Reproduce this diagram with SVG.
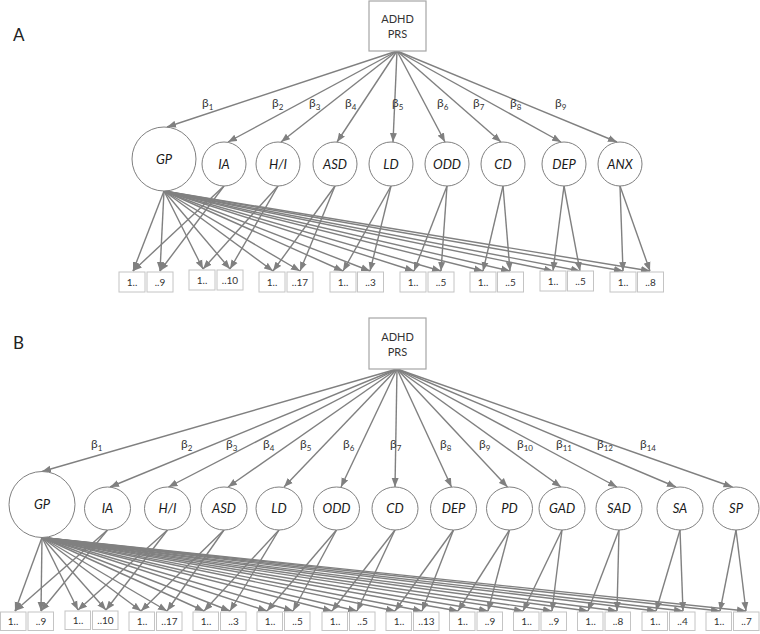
<svg xmlns="http://www.w3.org/2000/svg" width="760" height="634" viewBox="0 0 760 634">
<style>
.bg{fill:#fff}
.cn line{stroke:#808080;stroke-width:1.4;marker-end:url(#ah)}
.lat{fill:#fff;stroke:#7f7f7f;stroke-width:1}
.obs{fill:#fff;stroke:#c4c4c4;stroke-width:1}
.prs{fill:#fff;stroke:#a6a6a6;stroke-width:1.2}
.lt{font-family:Lato,"Open Sans","Liberation Sans",sans-serif;font-style:italic;font-size:13px;fill:#1a1a1a;text-anchor:middle}
.bt{font-family:Lato,"Open Sans","Liberation Sans",sans-serif;font-size:10px;fill:#333;text-anchor:middle}
.pt{font-family:Lato,"Open Sans","Liberation Sans",sans-serif;font-size:11px;fill:#333;text-anchor:middle}
.be{font-family:Lato,"Open Sans","Liberation Sans",sans-serif;font-size:12px;fill:#333}
.be tspan{font-size:8px}
.pl{font-family:Lato,"Open Sans","Liberation Sans",sans-serif;font-size:17px;fill:#222}
</style>
<defs>
<marker id="ah" markerWidth="10" markerHeight="8" refX="9" refY="4" orient="auto" markerUnits="userSpaceOnUse"><path d="M0,0.5 L9,4 L0,7.5 z" fill="#808080"/></marker>
</defs>
<rect class="bg" x="0" y="0" width="760" height="634"/>
<text class="pl" x="13" y="41">A</text>
<text class="pl" x="13" y="349">B</text>

<g id="connectors-A" class="cn">
<line x1="397" y1="51" x2="167" y2="127"/>
<line x1="397" y1="51" x2="228" y2="142"/>
<line x1="397" y1="51" x2="281" y2="142"/>
<line x1="397" y1="51" x2="337" y2="142"/>
<line x1="397" y1="51" x2="393" y2="142"/>
<line x1="397" y1="51" x2="445" y2="142"/>
<line x1="397" y1="51" x2="501" y2="142"/>
<line x1="397" y1="51" x2="561" y2="142"/>
<line x1="397" y1="51" x2="617" y2="142"/>
<line x1="164" y1="191" x2="133" y2="271"/>
<line x1="164" y1="191" x2="160" y2="271"/>
<line x1="164" y1="191" x2="203" y2="269"/>
<line x1="164" y1="191" x2="230" y2="269"/>
<line x1="164" y1="191" x2="273" y2="271"/>
<line x1="164" y1="191" x2="300" y2="271"/>
<line x1="164" y1="191" x2="343" y2="271"/>
<line x1="164" y1="191" x2="370" y2="271"/>
<line x1="164" y1="191" x2="414" y2="271"/>
<line x1="164" y1="191" x2="441" y2="271"/>
<line x1="164" y1="191" x2="483" y2="271"/>
<line x1="164" y1="191" x2="510" y2="271"/>
<line x1="164" y1="191" x2="553" y2="271"/>
<line x1="164" y1="191" x2="580" y2="271"/>
<line x1="164" y1="191" x2="623" y2="271"/>
<line x1="164" y1="191" x2="650" y2="271"/>
<line x1="224" y1="186" x2="133" y2="271"/>
<line x1="224" y1="186" x2="160" y2="271"/>
<line x1="278" y1="186" x2="203" y2="269"/>
<line x1="278" y1="186" x2="230" y2="269"/>
<line x1="335" y1="186" x2="273" y2="271"/>
<line x1="335" y1="186" x2="300" y2="271"/>
<line x1="391" y1="186" x2="343" y2="271"/>
<line x1="391" y1="186" x2="370" y2="271"/>
<line x1="447" y1="186" x2="414" y2="271"/>
<line x1="447" y1="186" x2="441" y2="271"/>
<line x1="503" y1="186" x2="483" y2="271"/>
<line x1="503" y1="186" x2="510" y2="271"/>
<line x1="564" y1="186" x2="553" y2="271"/>
<line x1="564" y1="186" x2="580" y2="271"/>
<line x1="620" y1="186" x2="623" y2="271"/>
<line x1="620" y1="186" x2="650" y2="271"/>
</g>

<g id="betas-A" class="be">
<text x="202" y="107">β<tspan dy="3">1</tspan></text>
<text x="272" y="107">β<tspan dy="3">2</tspan></text>
<text x="309" y="107">β<tspan dy="3">3</tspan></text>
<text x="345" y="107">β<tspan dy="3">4</tspan></text>
<text x="392" y="107">β<tspan dy="3">5</tspan></text>
<text x="437" y="107">β<tspan dy="3">6</tspan></text>
<text x="473" y="107">β<tspan dy="3">7</tspan></text>
<text x="510" y="107">β<tspan dy="3">8</tspan></text>
<text x="555" y="107">β<tspan dy="3">9</tspan></text>
</g>

<g id="A-PRS"><rect class="prs" x="369" y="1" width="57" height="50"/><text class="pt" x="397.5" y="23">ADHD</text><text class="pt" x="397.5" y="38">PRS</text></g>
<g id="A-GP"><circle class="lat" cx="164" cy="159" r="32"/><text class="lt" x="164" y="163.5">GP</text></g>
<g id="A-IA"><circle class="lat" cx="224" cy="164" r="22"/><text class="lt" x="224" y="168.5">IA</text></g>
<g id="A-HI"><circle class="lat" cx="278" cy="164" r="22"/><text class="lt" x="278" y="168.5">H/I</text></g>
<g id="A-ASD"><circle class="lat" cx="335" cy="164" r="22"/><text class="lt" x="335" y="168.5">ASD</text></g>
<g id="A-LD"><circle class="lat" cx="391" cy="164" r="22"/><text class="lt" x="391" y="168.5">LD</text></g>
<g id="A-ODD"><circle class="lat" cx="447" cy="164" r="22"/><text class="lt" x="447" y="168.5">ODD</text></g>
<g id="A-CD"><circle class="lat" cx="503" cy="164" r="22"/><text class="lt" x="503" y="168.5">CD</text></g>
<g id="A-DEP"><circle class="lat" cx="564" cy="164" r="22"/><text class="lt" x="564" y="168.5">DEP</text></g>
<g id="A-ANX"><circle class="lat" cx="620" cy="164" r="22"/><text class="lt" x="620" y="168.5">ANX</text></g>

<g id="A-IA-items"><rect class="obs" x="119" y="272" width="26" height="20"/><text class="bt" x="132" y="285.5">1..</text><rect class="obs" x="147" y="272" width="26" height="20"/><text class="bt" x="160" y="285.5">..9</text></g>
<g id="A-HI-items"><rect class="obs" x="189" y="270" width="26" height="20"/><text class="bt" x="202" y="283.5">1..</text><rect class="obs" x="217" y="270" width="26" height="20"/><text class="bt" x="230" y="283.5">..10</text></g>
<g id="A-ASD-items"><rect class="obs" x="259" y="272" width="26" height="20"/><text class="bt" x="272" y="285.5">1..</text><rect class="obs" x="287" y="272" width="26" height="20"/><text class="bt" x="300" y="285.5">..17</text></g>
<g id="A-LD-items"><rect class="obs" x="330" y="272" width="26" height="20"/><text class="bt" x="343" y="285.5">1..</text><rect class="obs" x="357.5" y="272" width="26" height="20"/><text class="bt" x="370.5" y="285.5">..3</text></g>
<g id="A-ODD-items"><rect class="obs" x="400" y="272" width="26" height="20"/><text class="bt" x="413" y="285.5">1..</text><rect class="obs" x="428" y="272" width="26" height="20"/><text class="bt" x="441" y="285.5">..5</text></g>
<g id="A-CD-items"><rect class="obs" x="470" y="272" width="26" height="20"/><text class="bt" x="483" y="285.5">1..</text><rect class="obs" x="497.5" y="272" width="26" height="20"/><text class="bt" x="510.5" y="285.5">..5</text></g>
<g id="A-DEP-items"><rect class="obs" x="540" y="271" width="26" height="20"/><text class="bt" x="553" y="284.5">1..</text><rect class="obs" x="567.5" y="271" width="26" height="20"/><text class="bt" x="580.5" y="284.5">..5</text></g>
<g id="A-ANX-items"><rect class="obs" x="610" y="272" width="26" height="20"/><text class="bt" x="623" y="285.5">1..</text><rect class="obs" x="637.5" y="272" width="26" height="20"/><text class="bt" x="650.5" y="285.5">..8</text></g>

<g id="connectors-B" class="cn">
<line x1="397" y1="369" x2="42" y2="471.5"/>
<line x1="397" y1="369" x2="110" y2="487"/>
<line x1="397" y1="369" x2="168.5" y2="487"/>
<line x1="397" y1="369" x2="228" y2="487"/>
<line x1="397" y1="369" x2="284" y2="487"/>
<line x1="397" y1="369" x2="341" y2="487"/>
<line x1="397" y1="369" x2="395" y2="487"/>
<line x1="397" y1="369" x2="451.5" y2="487"/>
<line x1="397" y1="369" x2="507.5" y2="487"/>
<line x1="397" y1="369" x2="561" y2="487"/>
<line x1="397" y1="369" x2="617" y2="487"/>
<line x1="397" y1="369" x2="676" y2="487"/>
<line x1="397" y1="369" x2="732.5" y2="487"/>
<line x1="42" y1="537.5" x2="15" y2="611"/>
<line x1="42" y1="537.5" x2="41" y2="611"/>
<line x1="42" y1="537.5" x2="78" y2="610"/>
<line x1="42" y1="537.5" x2="106" y2="610"/>
<line x1="42" y1="537.5" x2="141" y2="611"/>
<line x1="42" y1="537.5" x2="167" y2="611"/>
<line x1="42" y1="537.5" x2="204" y2="611"/>
<line x1="42" y1="537.5" x2="230" y2="611"/>
<line x1="42" y1="537.5" x2="267" y2="611"/>
<line x1="42" y1="537.5" x2="293" y2="611"/>
<line x1="42" y1="537.5" x2="332" y2="611"/>
<line x1="42" y1="537.5" x2="357" y2="611"/>
<line x1="42" y1="537.5" x2="395" y2="611"/>
<line x1="42" y1="537.5" x2="422" y2="611"/>
<line x1="42" y1="537.5" x2="458" y2="611"/>
<line x1="42" y1="537.5" x2="488" y2="611"/>
<line x1="42" y1="537.5" x2="523" y2="611"/>
<line x1="42" y1="537.5" x2="552" y2="611"/>
<line x1="42" y1="537.5" x2="588" y2="611"/>
<line x1="42" y1="537.5" x2="617" y2="611"/>
<line x1="42" y1="537.5" x2="656" y2="611"/>
<line x1="42" y1="537.5" x2="683" y2="611"/>
<line x1="42" y1="537.5" x2="720" y2="611"/>
<line x1="42" y1="537.5" x2="746" y2="611"/>
<line x1="107.5" y1="530" x2="15" y2="611"/>
<line x1="107.5" y1="530" x2="41" y2="611"/>
<line x1="167.5" y1="530" x2="78" y2="610"/>
<line x1="167.5" y1="530" x2="106" y2="610"/>
<line x1="224" y1="530" x2="141" y2="611"/>
<line x1="224" y1="530" x2="167" y2="611"/>
<line x1="279" y1="530" x2="204" y2="611"/>
<line x1="279" y1="530" x2="230" y2="611"/>
<line x1="336.5" y1="530" x2="267" y2="611"/>
<line x1="336.5" y1="530" x2="293" y2="611"/>
<line x1="395" y1="530" x2="332" y2="611"/>
<line x1="395" y1="530" x2="357" y2="611"/>
<line x1="453.5" y1="530" x2="395" y2="611"/>
<line x1="453.5" y1="530" x2="422" y2="611"/>
<line x1="509.5" y1="530" x2="458" y2="611"/>
<line x1="509.5" y1="530" x2="488" y2="611"/>
<line x1="562" y1="530" x2="523" y2="611"/>
<line x1="562" y1="530" x2="552" y2="611"/>
<line x1="619" y1="530" x2="588" y2="611"/>
<line x1="619" y1="530" x2="617" y2="611"/>
<line x1="680" y1="530" x2="656" y2="611"/>
<line x1="680" y1="530" x2="683" y2="611"/>
<line x1="736" y1="530" x2="720" y2="611"/>
<line x1="736" y1="530" x2="746" y2="611"/>
</g>

<g id="betas-B" class="be">
<text x="91" y="448">β<tspan dy="3">1</tspan></text>
<text x="181" y="448">β<tspan dy="3">2</tspan></text>
<text x="226" y="448">β<tspan dy="3">3</tspan></text>
<text x="263" y="448">β<tspan dy="3">4</tspan></text>
<text x="300" y="448">β<tspan dy="3">5</tspan></text>
<text x="343" y="448">β<tspan dy="3">6</tspan></text>
<text x="390" y="448">β<tspan dy="3">7</tspan></text>
<text x="440" y="448">β<tspan dy="3">8</tspan></text>
<text x="479" y="448">β<tspan dy="3">9</tspan></text>
<text x="517" y="448">β<tspan dy="3">10</tspan></text>
<text x="556" y="448">β<tspan dy="3">11</tspan></text>
<text x="597" y="448">β<tspan dy="3">12</tspan></text>
<text x="640" y="448">β<tspan dy="3">14</tspan></text>
</g>

<g id="B-PRS"><rect class="prs" x="369" y="318" width="57" height="51"/><text class="pt" x="397.5" y="341">ADHD</text><text class="pt" x="397.5" y="356">PRS</text></g>
<g id="B-GP"><circle class="lat" cx="42" cy="504.5" r="33"/><text class="lt" x="42" y="509">GP</text></g>
<g id="B-IA"><ellipse class="lat" cx="107.5" cy="508.5" rx="23" ry="21.5"/><text class="lt" x="107.5" y="513">IA</text></g>
<g id="B-HI"><ellipse class="lat" cx="167.5" cy="508.5" rx="23" ry="21.5"/><text class="lt" x="167.5" y="513">H/I</text></g>
<g id="B-ASD"><ellipse class="lat" cx="224" cy="508.5" rx="23" ry="21.5"/><text class="lt" x="224" y="513">ASD</text></g>
<g id="B-LD"><ellipse class="lat" cx="279" cy="508.5" rx="23" ry="21.5"/><text class="lt" x="279" y="513">LD</text></g>
<g id="B-ODD"><ellipse class="lat" cx="336.5" cy="508.5" rx="23" ry="21.5"/><text class="lt" x="336.5" y="513">ODD</text></g>
<g id="B-CD"><ellipse class="lat" cx="395" cy="508.5" rx="23" ry="21.5"/><text class="lt" x="395" y="513">CD</text></g>
<g id="B-DEP"><ellipse class="lat" cx="453.5" cy="508.5" rx="23" ry="21.5"/><text class="lt" x="453.5" y="513">DEP</text></g>
<g id="B-PD"><ellipse class="lat" cx="509.5" cy="508.5" rx="23" ry="21.5"/><text class="lt" x="509.5" y="513">PD</text></g>
<g id="B-GAD"><ellipse class="lat" cx="562" cy="508.5" rx="23" ry="21.5"/><text class="lt" x="562" y="513">GAD</text></g>
<g id="B-SAD"><ellipse class="lat" cx="619" cy="508.5" rx="23" ry="21.5"/><text class="lt" x="619" y="513">SAD</text></g>
<g id="B-SA"><ellipse class="lat" cx="680" cy="508.5" rx="23" ry="21.5"/><text class="lt" x="680" y="513">SA</text></g>
<g id="B-SP"><ellipse class="lat" cx="736" cy="508.5" rx="23" ry="21.5"/><text class="lt" x="736" y="513">SP</text></g>

<g id="B-IA-items"><rect class="obs" x="0.5" y="612" width="25.5" height="18.5"/><text class="bt" x="13" y="624.5">1..</text><rect class="obs" x="28" y="612" width="25.5" height="18.5"/><text class="bt" x="41" y="624.5">..9</text></g>
<g id="B-HI-items"><rect class="obs" x="65" y="611" width="25.5" height="18.5"/><text class="bt" x="78" y="623.5">1..</text><rect class="obs" x="92.5" y="611" width="25.5" height="18.5"/><text class="bt" x="105.5" y="623.5">..10</text></g>
<g id="B-ASD-items"><rect class="obs" x="129" y="612" width="25.5" height="18.5"/><text class="bt" x="142" y="624.5">1..</text><rect class="obs" x="156.5" y="612" width="25.5" height="18.5"/><text class="bt" x="169.5" y="624.5">..17</text></g>
<g id="B-LD-items"><rect class="obs" x="193" y="612" width="25.5" height="18.5"/><text class="bt" x="206" y="624.5">1..</text><rect class="obs" x="220.5" y="612" width="25.5" height="18.5"/><text class="bt" x="233.5" y="624.5">..3</text></g>
<g id="B-ODD-items"><rect class="obs" x="257" y="612" width="25.5" height="18.5"/><text class="bt" x="270" y="624.5">1..</text><rect class="obs" x="284.5" y="612" width="25.5" height="18.5"/><text class="bt" x="297.5" y="624.5">..5</text></g>
<g id="B-CD-items"><rect class="obs" x="322" y="612" width="25.5" height="18.5"/><text class="bt" x="335" y="624.5">1..</text><rect class="obs" x="349.5" y="612" width="25.5" height="18.5"/><text class="bt" x="362.5" y="624.5">..5</text></g>
<g id="B-DEP-items"><rect class="obs" x="386" y="612" width="25.5" height="18.5"/><text class="bt" x="399" y="624.5">1..</text><rect class="obs" x="413.5" y="612" width="25.5" height="18.5"/><text class="bt" x="426.5" y="624.5">..13</text></g>
<g id="B-PD-items"><rect class="obs" x="449.5" y="612" width="25.5" height="18.5"/><text class="bt" x="462.5" y="624.5">1..</text><rect class="obs" x="477" y="612" width="25.5" height="18.5"/><text class="bt" x="490" y="624.5">..9</text></g>
<g id="B-GAD-items"><rect class="obs" x="513.5" y="612" width="25.5" height="18.5"/><text class="bt" x="526.5" y="624.5">1..</text><rect class="obs" x="541" y="612" width="25.5" height="18.5"/><text class="bt" x="554" y="624.5">..9</text></g>
<g id="B-SAD-items"><rect class="obs" x="577.5" y="612" width="25.5" height="18.5"/><text class="bt" x="590.5" y="624.5">1..</text><rect class="obs" x="605" y="612" width="25.5" height="18.5"/><text class="bt" x="618" y="624.5">..8</text></g>
<g id="B-SA-items"><rect class="obs" x="642" y="612" width="25.5" height="18.5"/><text class="bt" x="655" y="624.5">1..</text><rect class="obs" x="669.5" y="612" width="25.5" height="18.5"/><text class="bt" x="682.5" y="624.5">..4</text></g>
<g id="B-SP-items"><rect class="obs" x="706" y="612" width="25.5" height="18.5"/><text class="bt" x="719" y="624.5">1..</text><rect class="obs" x="733.5" y="612" width="25.5" height="18.5"/><text class="bt" x="746.5" y="624.5">..7</text></g>
</svg>
